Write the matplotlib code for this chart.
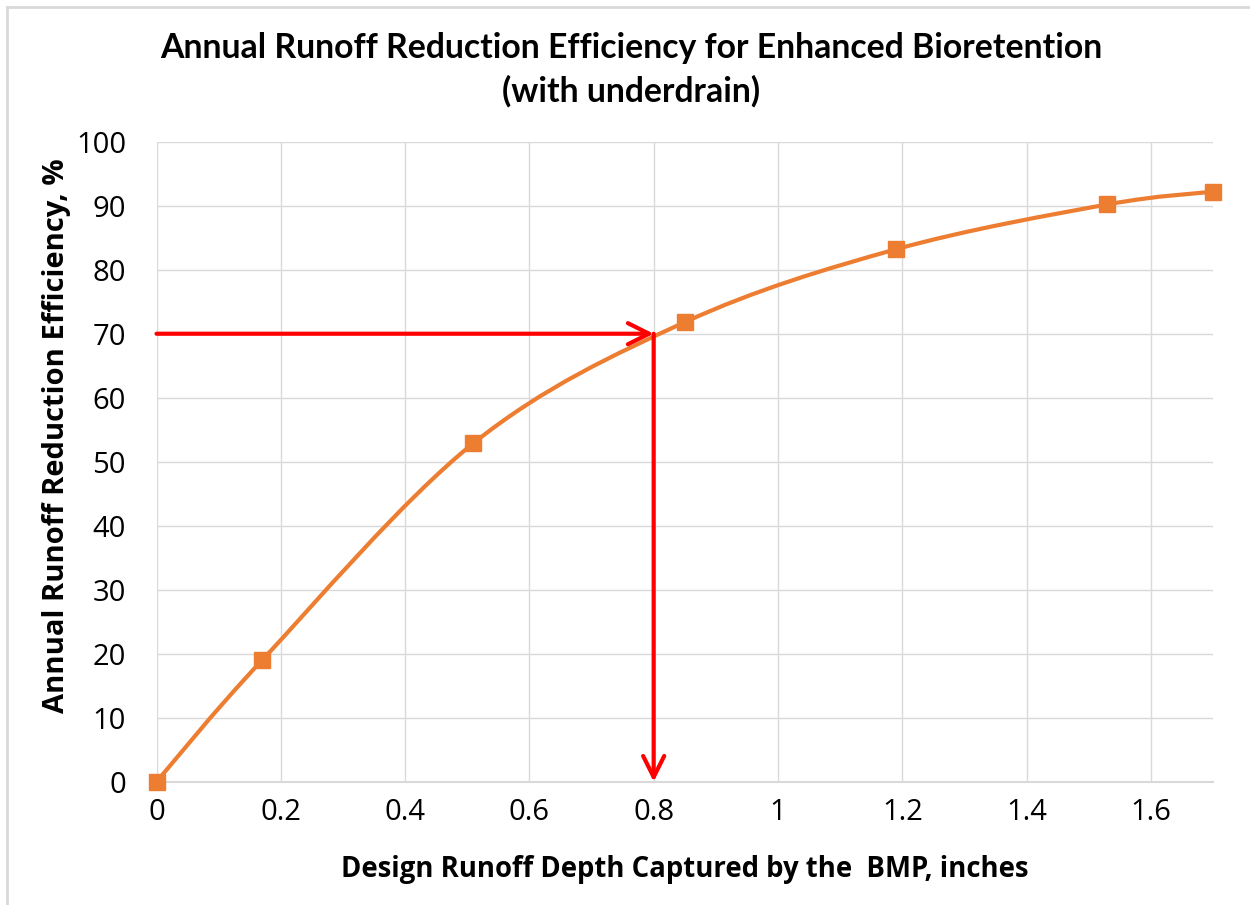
import matplotlib
matplotlib.use('Agg')
import matplotlib.pyplot as plt
from matplotlib.path import Path
from matplotlib.patches import PathPatch
from matplotlib.lines import Line2D
import numpy as np

# data
depth = [0, 0.17, 0.51, 0.85, 1.19, 1.53, 1.70]
efficiency = [0, 19.0, 52.9, 71.8, 83.2, 90.2, 92.2]
design_depth = 0.8
target_eff = 70

x_ticks = [0, 0.2, 0.4, 0.6, 0.8, 1.0, 1.2, 1.4, 1.6]
x_ticklabels = ['0', '0.2', '0.4', '0.6', '0.8', '1', '1.2', '1.4', '1.6']
y_ticks = list(range(0, 101, 10))

title = 'Annual Runoff Reduction Efficiency for Enhanced Bioretention\n(with underdrain)'
xlabel = 'Design Runoff Depth Captured by the  BMP, inches'
ylabel = 'Annual Runoff Reduction Efficiency, %'

orange = '#ED7D31'
grid_col = '#D9D9D9'


def smooth_path(xs, ys):
    # excel-like smoothed line: cubic bezier, catmull-rom control points
    pts = np.column_stack([xs, ys]).astype(float)
    ext = np.vstack([pts[0], pts, pts[-1]])
    verts = [tuple(pts[0])]
    codes = [Path.MOVETO]
    for i in range(1, len(ext) - 2):
        p0, p1, p2, p3 = ext[i - 1], ext[i], ext[i + 1], ext[i + 2]
        c1 = p1 + (p2 - p0) / 6.0
        c2 = p2 - (p3 - p1) / 6.0
        verts += [tuple(c1), tuple(c2), tuple(p2)]
        codes += [Path.CURVE4] * 3
    return Path(verts, codes)


fig = plt.figure(figsize=(12.5, 9.05), dpi=100)
ax = fig.add_axes([0.1252, 0.1362, 0.8452, 0.7072])

ax.set_xlim(0, 1.7)
ax.set_ylim(0, 100)
ax.set_xticks(x_ticks)
ax.set_xticklabels(x_ticklabels)
ax.set_yticks(y_ticks)
ax.grid(True, color=grid_col, lw=1)
ax.set_axisbelow(True)
for s in ['top', 'right', 'left']:
    ax.spines[s].set_visible(False)
ax.spines['bottom'].set_color(grid_col)
ax.spines['bottom'].set_linewidth(1.5)
ax.tick_params(length=0, labelsize=21)
ax.tick_params(axis='y', pad=22)
ax.tick_params(axis='x', pad=12)
for lab in ax.get_xticklabels() + ax.get_yticklabels():
    lab.set_family('Open Sans')

# smoothed curve + markers
ax.add_patch(PathPatch(smooth_path(depth, efficiency), facecolor='none',
                       edgecolor=orange, lw=3, zorder=3, clip_on=False))
ax.plot(depth, efficiency, ls='none', marker='s', ms=11, color=orange,
        zorder=4, clip_on=False)

# red reading arrows
arw = dict(arrowstyle='->', color='red', lw=3, mutation_scale=38,
           shrinkA=0, shrinkB=0)
ax.annotate('', xy=(design_depth, target_eff), xytext=(0, target_eff),
            arrowprops=arw, zorder=5)
ax.annotate('', xy=(design_depth, 0), xytext=(design_depth, target_eff),
            arrowprops=arw, zorder=5)

ax.set_xlabel(xlabel, fontsize=19.8, fontweight='bold', family='Open Sans')
ax.set_ylabel(ylabel, fontsize=21, fontweight='bold', family='Open Sans')
ax.xaxis.set_label_coords(0.5, -0.137)
ax.yaxis.set_label_coords(-0.095, 0.54)
ax.xaxis.label.set_va('center')
ax.yaxis.label.set_va('center')
fig.text(0.505, 0.923, title, ha='center', va='center', fontsize=24.3,
         fontweight='bold', family='Lato', linespacing=1.4)

# chart frame (top / left edges visible)
fig.add_artist(Line2D([0.0056, 1], [0.9923, 0.9923], color='#D9D9D9', lw=2))
fig.add_artist(Line2D([0.0056, 0.0056], [0, 0.9923], color='#D9D9D9', lw=2))

fig.savefig('out.png', dpi=100)
